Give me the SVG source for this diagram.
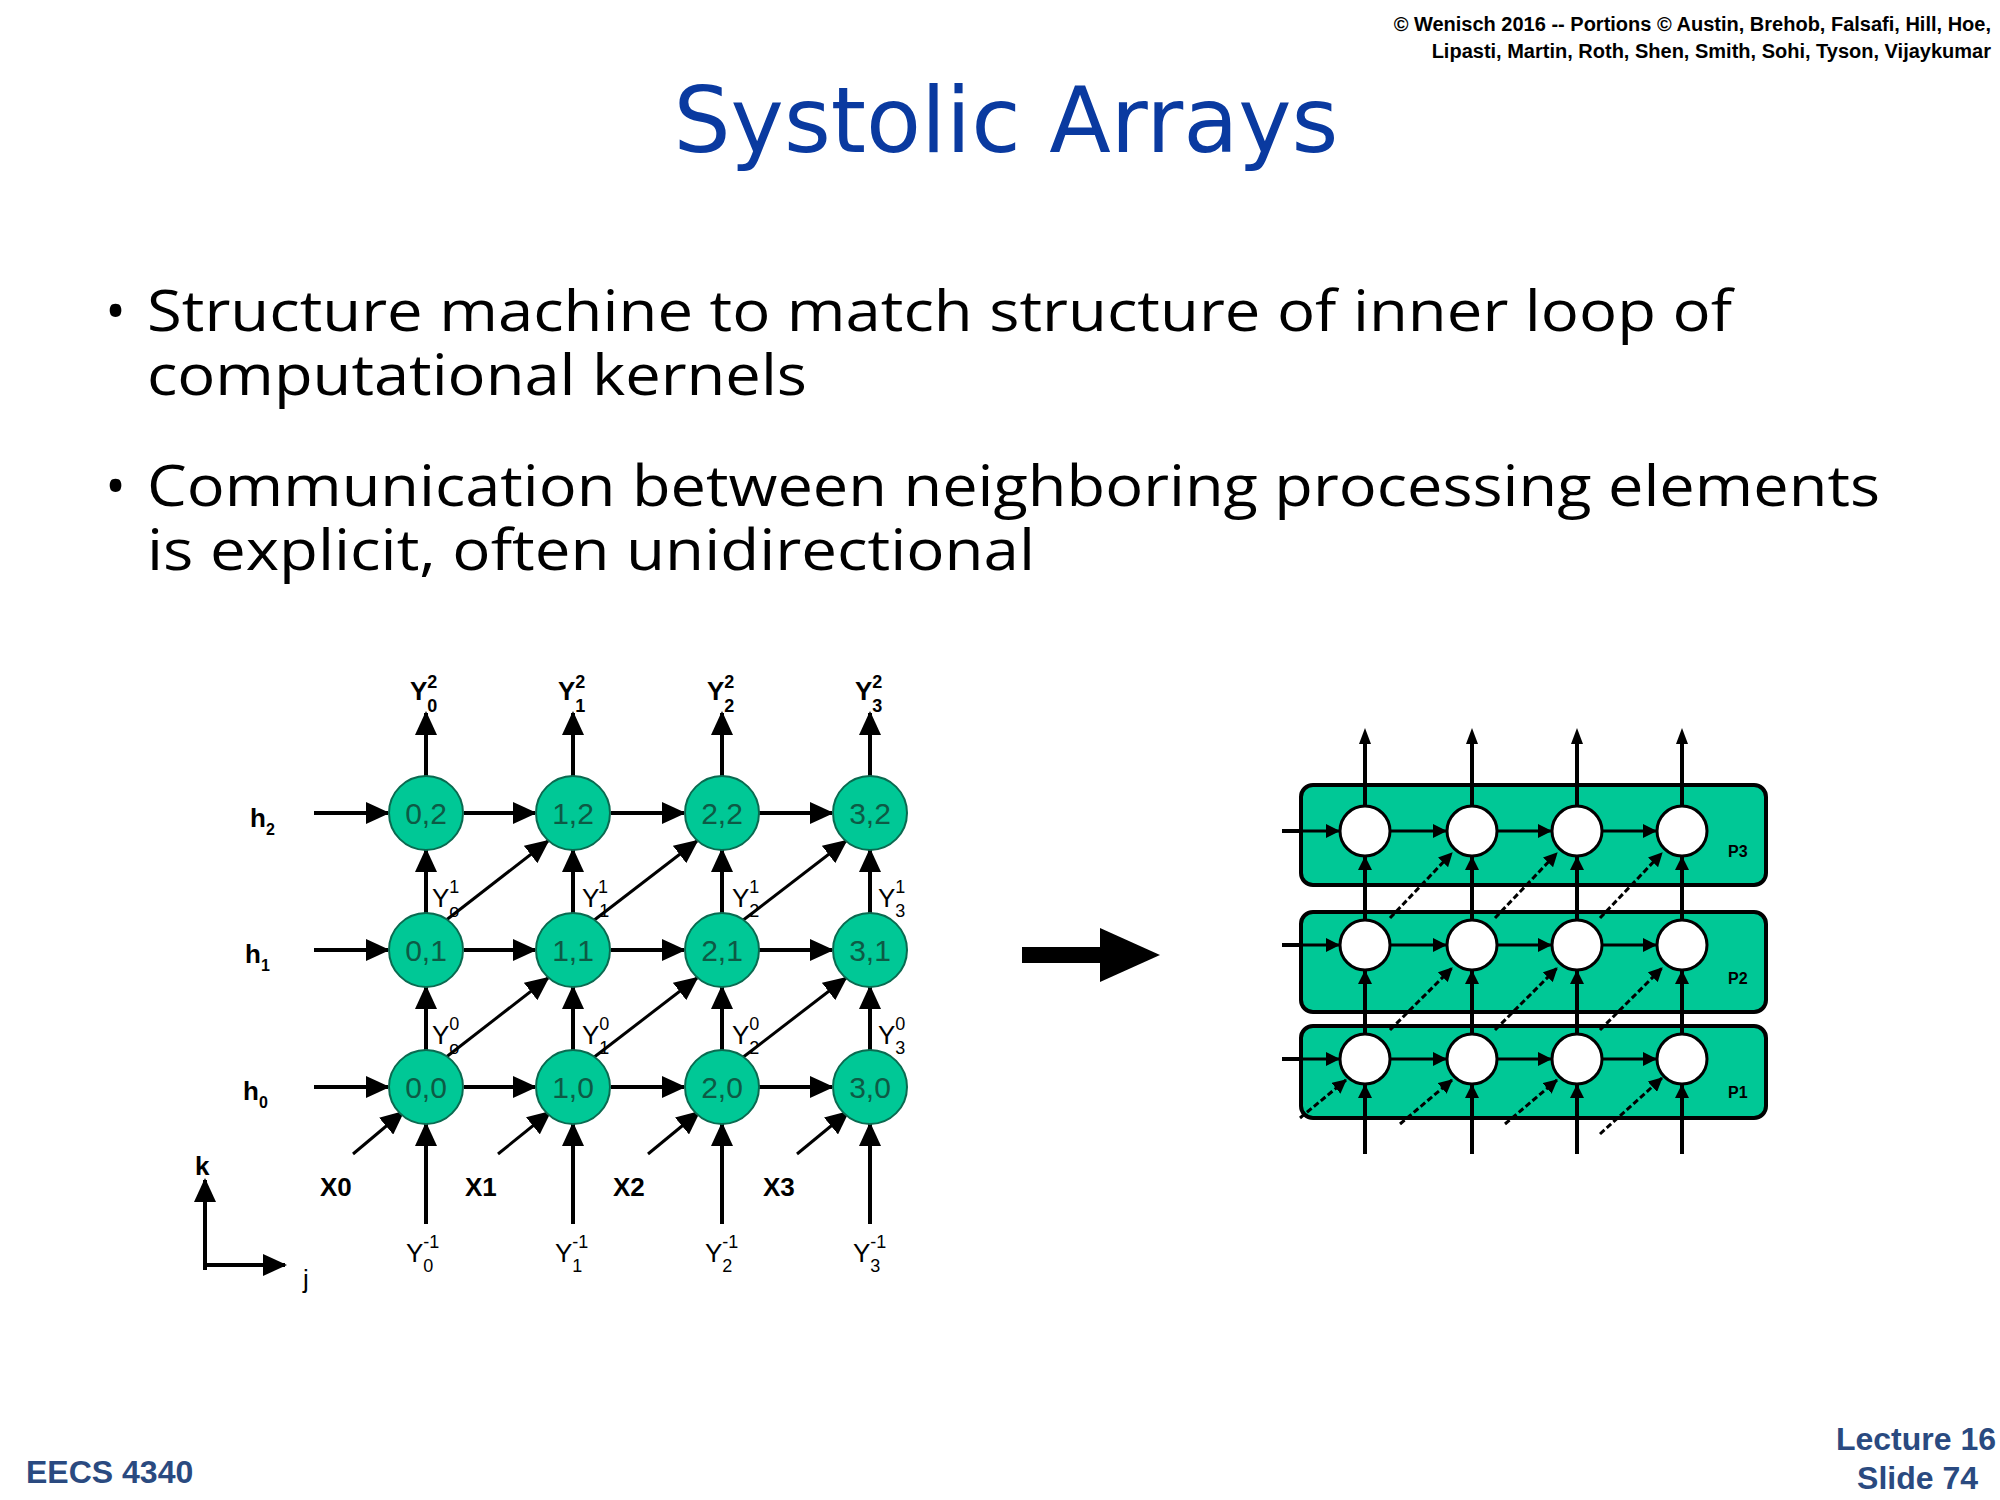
<svg xmlns="http://www.w3.org/2000/svg" width="2000" height="1500" viewBox="0 0 2000 1500">
<defs>
<marker id="ahL" markerWidth="24" markerHeight="22" refX="22" refY="11" orient="auto" markerUnits="userSpaceOnUse" viewBox="0 0 24 22"><path d="M0,0 L24,11 L0,22 z" fill="#000"/></marker>
<marker id="ahS" markerWidth="14" markerHeight="14" refX="13" refY="7" orient="auto" markerUnits="userSpaceOnUse" viewBox="0 0 14 14"><path d="M0,0 L14,7 L0,14 z" fill="#000"/></marker>
</defs>
<style>
.t{font-family:"Open Sans","DejaVu Sans",sans-serif;font-size:56px;fill:#000}
.n{fill:#00c896;stroke:#0a6a50;stroke-width:2}
.nt{font-family:"Liberation Sans",sans-serif;font-size:30px;fill:#0d5a45;text-anchor:middle}
.l{font-family:"Liberation Sans",sans-serif;font-weight:bold;font-size:26px;fill:#000}
.ls{font-family:"Liberation Sans",sans-serif;font-weight:bold;font-size:16px;fill:#000}
.c line,line.c{stroke:#000;stroke-width:4;marker-end:url(#ahL)}
.d line{stroke:#000;stroke-width:3;marker-end:url(#ahL)}
.r{stroke:#000;stroke-width:4;fill:none}
.ra line{stroke:#000;stroke-width:3;marker-end:url(#ahS)}
.dash line{stroke-dasharray:6,3}
.p{fill:#00c896;stroke:#000;stroke-width:4}
.w{fill:#fff;stroke:#000;stroke-width:3}
.f{font-family:"Liberation Sans",sans-serif;font-weight:bold;font-size:32px;fill:#2a4a80}
.sb{font-size:18px}
</style>
<rect width="2000" height="1500" fill="#fff"/>
<text x="1991" y="31" font-family="Liberation Sans,sans-serif" font-weight="bold" font-size="20" text-anchor="end">© Wenisch 2016 -- Portions © Austin, Brehob, Falsafi, Hill, Hoe,</text>
<text x="1991" y="58" font-family="Liberation Sans,sans-serif" font-weight="bold" font-size="20" text-anchor="end">Lipasti, Martin, Roth, Shen, Smith, Sohi, Tyson, Vijaykumar</text>
<text x="1006" y="152" font-family="DejaVu Sans,sans-serif" font-size="90" fill="#0a3aa0" text-anchor="middle">Systolic Arrays</text>
<text x="105" y="331" class="t">•</text>
<text x="147" y="331" class="t" textLength="1585" lengthAdjust="spacingAndGlyphs">Structure machine to match structure of inner loop of</text>
<text x="147" y="395" class="t" textLength="660" lengthAdjust="spacingAndGlyphs">computational kernels</text>
<text x="105" y="506" class="t">•</text>
<text x="147" y="506" class="t" textLength="1733" lengthAdjust="spacingAndGlyphs">Communication between neighboring processing elements</text>
<text x="147" y="570" class="t" textLength="888" lengthAdjust="spacingAndGlyphs">is explicit, often unidirectional</text>

<g id="connectors">
<g class="c">
<line x1="314" y1="813" x2="388" y2="813"/><line x1="464" y1="813" x2="535" y2="813"/><line x1="611" y1="813" x2="684" y2="813"/><line x1="759" y1="813" x2="832" y2="813"/>
<line x1="314" y1="950" x2="388" y2="950"/><line x1="464" y1="950" x2="535" y2="950"/><line x1="611" y1="950" x2="684" y2="950"/><line x1="759" y1="950" x2="832" y2="950"/>
<line x1="314" y1="1087" x2="388" y2="1087"/><line x1="464" y1="1087" x2="535" y2="1087"/><line x1="611" y1="1087" x2="684" y2="1087"/><line x1="759" y1="1087" x2="832" y2="1087"/>
<line x1="426" y1="1224" x2="426" y2="1124"/><line x1="573" y1="1224" x2="573" y2="1124"/><line x1="722" y1="1224" x2="722" y2="1124"/><line x1="870" y1="1224" x2="870" y2="1124"/>
<line x1="426" y1="1050" x2="426" y2="987"/><line x1="573" y1="1050" x2="573" y2="987"/><line x1="722" y1="1050" x2="722" y2="987"/><line x1="870" y1="1050" x2="870" y2="987"/>
<line x1="426" y1="913" x2="426" y2="850"/><line x1="573" y1="913" x2="573" y2="850"/><line x1="722" y1="913" x2="722" y2="850"/><line x1="870" y1="913" x2="870" y2="850"/>
<line x1="426" y1="776" x2="426" y2="713"/><line x1="573" y1="776" x2="573" y2="713"/><line x1="722" y1="776" x2="722" y2="713"/><line x1="870" y1="776" x2="870" y2="713"/>
<line x1="205" y1="1270" x2="205" y2="1180"/><line x1="203" y1="1265" x2="285" y2="1265"/>
</g>
<g class="d">
<line x1="445" y1="921" x2="548" y2="841"/><line x1="593" y1="921" x2="697" y2="841"/><line x1="742" y1="921" x2="846" y2="841"/>
<line x1="445" y1="1058" x2="548" y2="978"/><line x1="593" y1="1058" x2="697" y2="978"/><line x1="742" y1="1058" x2="846" y2="978"/>
<line x1="353" y1="1154" x2="403" y2="1112"/><line x1="498" y1="1154" x2="550" y2="1112"/><line x1="648" y1="1154" x2="699" y2="1112"/><line x1="797" y1="1154" x2="848" y2="1112"/>
</g>
<rect x="1022" y="947" width="80" height="16" fill="#000"/>
<path d="M1100,928L1160,955L1100,982z" fill="#000"/>
</g>

<g id="labels-left" class="l">
<text x="410" y="700">Y<tspan class="sb" dy="12">0</tspan><tspan class="sb" dx="-10" dy="-24">2</tspan></text>
<text x="558" y="700">Y<tspan class="sb" dy="12">1</tspan><tspan class="sb" dx="-10" dy="-24">2</tspan></text>
<text x="707" y="700">Y<tspan class="sb" dy="12">2</tspan><tspan class="sb" dx="-10" dy="-24">2</tspan></text>
<text x="855" y="700">Y<tspan class="sb" dy="12">3</tspan><tspan class="sb" dx="-10" dy="-24">2</tspan></text>
<text x="250" y="827">h<tspan font-size="16" dy="8">2</tspan></text>
<text x="245" y="963">h<tspan font-size="16" dy="8">1</tspan></text>
<text x="243" y="1100">h<tspan font-size="16" dy="8">0</tspan></text>
<g font-weight="normal">
<text x="432" y="907">Y<tspan class="sb" dy="10">o</tspan><tspan class="sb" dx="-10" dy="-24">1</tspan></text>
<text x="582" y="907">Y<tspan class="sb" dy="10">1</tspan><tspan class="sb" dx="-10" dy="-24">1</tspan></text>
<text x="732" y="907">Y<tspan class="sb" dy="10">2</tspan><tspan class="sb" dx="-10" dy="-24">1</tspan></text>
<text x="878" y="907">Y<tspan class="sb" dy="10">3</tspan><tspan class="sb" dx="-10" dy="-24">1</tspan></text>
<text x="432" y="1044">Y<tspan class="sb" dy="10">o</tspan><tspan class="sb" dx="-10" dy="-24">0</tspan></text>
<text x="582" y="1044">Y<tspan class="sb" dy="10">1</tspan><tspan class="sb" dx="-10" dy="-24">0</tspan></text>
<text x="732" y="1044">Y<tspan class="sb" dy="10">2</tspan><tspan class="sb" dx="-10" dy="-24">0</tspan></text>
<text x="878" y="1044">Y<tspan class="sb" dy="10">3</tspan><tspan class="sb" dx="-10" dy="-24">0</tspan></text>
<text x="406" y="1262">Y<tspan class="sb" dy="10">0</tspan><tspan class="sb" dx="-10" dy="-24">-1</tspan></text>
<text x="555" y="1262">Y<tspan class="sb" dy="10">1</tspan><tspan class="sb" dx="-10" dy="-24">-1</tspan></text>
<text x="705" y="1262">Y<tspan class="sb" dy="10">2</tspan><tspan class="sb" dx="-10" dy="-24">-1</tspan></text>
<text x="853" y="1262">Y<tspan class="sb" dy="10">3</tspan><tspan class="sb" dx="-10" dy="-24">-1</tspan></text>
</g>
<text x="320" y="1196">X0</text>
<text x="465" y="1196">X1</text>
<text x="613" y="1196">X2</text>
<text x="763" y="1196">X3</text>
<text x="195" y="1175">k</text>
<text x="303" y="1288" font-weight="normal">j</text>
</g>

<g id="n02"><circle class="n" cx="426" cy="813" r="37"/><text class="nt" x="426" y="824">0,2</text></g>
<g id="n12"><circle class="n" cx="573" cy="813" r="37"/><text class="nt" x="573" y="824">1,2</text></g>
<g id="n22"><circle class="n" cx="722" cy="813" r="37"/><text class="nt" x="722" y="824">2,2</text></g>
<g id="n32"><circle class="n" cx="870" cy="813" r="37"/><text class="nt" x="870" y="824">3,2</text></g>
<g id="n01"><circle class="n" cx="426" cy="950" r="37"/><text class="nt" x="426" y="961">0,1</text></g>
<g id="n11"><circle class="n" cx="573" cy="950" r="37"/><text class="nt" x="573" y="961">1,1</text></g>
<g id="n21"><circle class="n" cx="722" cy="950" r="37"/><text class="nt" x="722" y="961">2,1</text></g>
<g id="n31"><circle class="n" cx="870" cy="950" r="37"/><text class="nt" x="870" y="961">3,1</text></g>
<g id="n00"><circle class="n" cx="426" cy="1087" r="37"/><text class="nt" x="426" y="1098">0,0</text></g>
<g id="n10"><circle class="n" cx="573" cy="1087" r="37"/><text class="nt" x="573" y="1098">1,0</text></g>
<g id="n20"><circle class="n" cx="722" cy="1087" r="37"/><text class="nt" x="722" y="1098">2,0</text></g>
<g id="n30"><circle class="n" cx="870" cy="1087" r="37"/><text class="nt" x="870" y="1098">3,0</text></g>

<g id="P3"><rect class="p" x="1301" y="785" width="465" height="100" rx="12"/><text class="ls" x="1728" y="857">P3</text></g>
<g id="P2"><rect class="p" x="1301" y="912" width="465" height="100" rx="12"/><text class="ls" x="1728" y="984">P2</text></g>
<g id="P1"><rect class="p" x="1301" y="1026" width="465" height="92" rx="12"/><text class="ls" x="1728" y="1098">P1</text></g>

<g id="right-connectors">
<path class="r" d="M1365,1154V744M1472,1154V744M1577,1154V744M1682,1154V744"/>
<path class="r" d="M1282,831H1300M1282,945H1300M1282,1059H1300"/>
<path d="M1359,744l6,-16l6,16zM1466,744l6,-16l6,16zM1571,744l6,-16l6,16zM1676,744l6,-16l6,16z" fill="#000"/>
<g class="ra">
<line x1="1300" y1="831" x2="1339" y2="831"/><line x1="1391" y1="831" x2="1446" y2="831"/><line x1="1498" y1="831" x2="1551" y2="831"/><line x1="1603" y1="831" x2="1656" y2="831"/>
<line x1="1300" y1="945" x2="1339" y2="945"/><line x1="1391" y1="945" x2="1446" y2="945"/><line x1="1498" y1="945" x2="1551" y2="945"/><line x1="1603" y1="945" x2="1656" y2="945"/>
<line x1="1300" y1="1059" x2="1339" y2="1059"/><line x1="1391" y1="1059" x2="1446" y2="1059"/><line x1="1498" y1="1059" x2="1551" y2="1059"/><line x1="1603" y1="1059" x2="1656" y2="1059"/>
<line x1="1365" y1="885" x2="1365" y2="857"/><line x1="1472" y1="885" x2="1472" y2="857"/><line x1="1577" y1="885" x2="1577" y2="857"/><line x1="1682" y1="885" x2="1682" y2="857"/>
<line x1="1365" y1="998" x2="1365" y2="971"/><line x1="1472" y1="998" x2="1472" y2="971"/><line x1="1577" y1="998" x2="1577" y2="971"/><line x1="1682" y1="998" x2="1682" y2="971"/>
<line x1="1365" y1="1110" x2="1365" y2="1085"/><line x1="1472" y1="1110" x2="1472" y2="1085"/><line x1="1577" y1="1110" x2="1577" y2="1085"/><line x1="1682" y1="1110" x2="1682" y2="1085"/>
</g>
<g class="ra dash">
<line x1="1390" y1="918" x2="1452" y2="853"/><line x1="1495" y1="918" x2="1557" y2="853"/><line x1="1600" y1="918" x2="1662" y2="853"/>
<line x1="1390" y1="1030" x2="1452" y2="968"/><line x1="1495" y1="1030" x2="1557" y2="968"/><line x1="1600" y1="1030" x2="1662" y2="968"/>
<line x1="1300" y1="1118" x2="1346" y2="1080"/><line x1="1400" y1="1124" x2="1452" y2="1080"/><line x1="1505" y1="1124" x2="1557" y2="1080"/><line x1="1600" y1="1134" x2="1662" y2="1078"/>
</g>
</g>
<g id="right-nodes">
<circle class="w" cx="1365" cy="831" r="25"/><circle class="w" cx="1472" cy="831" r="25"/><circle class="w" cx="1577" cy="831" r="25"/><circle class="w" cx="1682" cy="831" r="25"/>
<circle class="w" cx="1365" cy="945" r="25"/><circle class="w" cx="1472" cy="945" r="25"/><circle class="w" cx="1577" cy="945" r="25"/><circle class="w" cx="1682" cy="945" r="25"/>
<circle class="w" cx="1365" cy="1059" r="25"/><circle class="w" cx="1472" cy="1059" r="25"/><circle class="w" cx="1577" cy="1059" r="25"/><circle class="w" cx="1682" cy="1059" r="25"/>
</g>

<text class="f" x="26" y="1483">EECS 4340</text>
<text class="f" x="1996" y="1450" text-anchor="end">Lecture 16</text>
<text class="f" x="1978" y="1489" text-anchor="end">Slide 74</text>
</svg>
